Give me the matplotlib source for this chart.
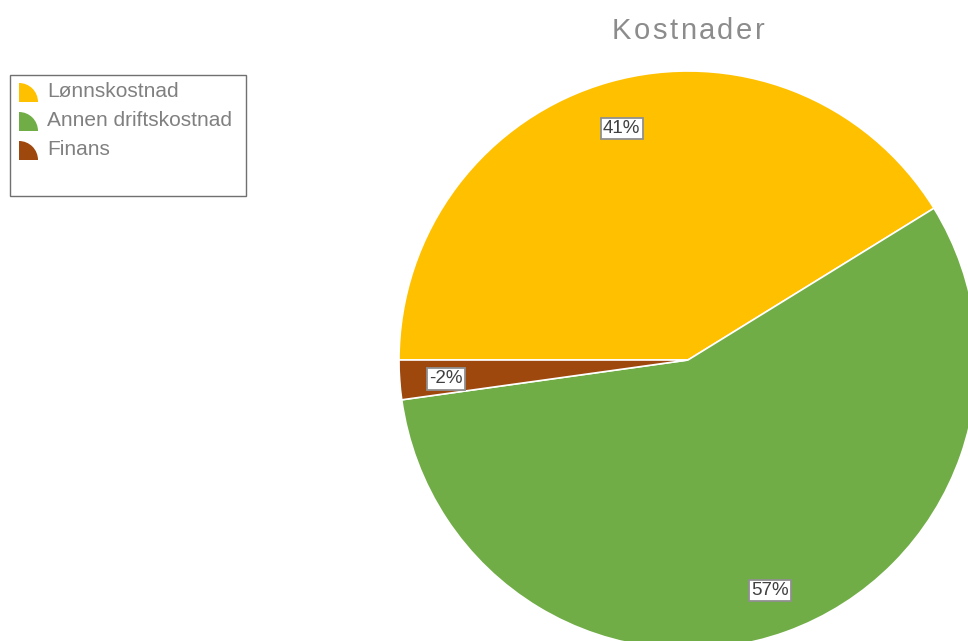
import matplotlib.pyplot as plt
from matplotlib.patches import Wedge, Rectangle
import numpy as np

# data
categories = ['Lønnskostnad', 'Annen driftskostnad', 'Finans']
values = [41.2, 56.6, -2.2]
colors = ['#FFC000', '#70AD47', '#9E480E']
title = 'Kostnader'

W, H = 968, 641
plt.rcParams['font.family'] = ['Liberation Sans', 'DejaVu Sans']


def py(y):
    # pixel row (from top) -> data y
    return H - y


fig = plt.figure(figsize=(W / 100, H / 100), dpi=100)
ax = fig.add_axes([0, 0, 1, 1])

sizes = [abs(v) for v in values]
total = sum(sizes)
labels = ['%d%%' % round(v / total * 100) for v in values]

cx, cy, R = 688, py(360), 289
wedges, _ = ax.pie(sizes, colors=colors, center=(cx, cy), radius=R,
                   startangle=180, counterclock=False,
                   wedgeprops=dict(edgecolor='white', linewidth=1.2), frame=True)

ang = 180.0
for lab, s in zip(labels, sizes):
    span = s / total * 360
    mid = np.deg2rad(ang - span / 2)
    ang -= span
    ax.text(cx + 0.84 * R * np.cos(mid), cy + 0.84 * R * np.sin(mid) - 2, lab,
            ha='center', va='center', fontsize=13.5, color='#404040',
            bbox=dict(boxstyle='square,pad=0.12', facecolor='white',
                      edgecolor='#909090', linewidth=1.3))

ax.set_xlim(0, W)
ax.set_ylim(0, H)
ax.set_aspect('equal')
ax.axis('off')

# title with some letter spacing
fig.canvas.draw()
rend = fig.canvas.get_renderer()
chars = []
for ch in title:
    t = ax.text(0, py(31), ch, fontsize=21, color='#8C8C8C', va='center', ha='left')
    chars.append(t)
widths = [t.get_window_extent(rend).width for t in chars]
spacing = 2.5
tot_w = sum(widths) + spacing * (len(chars) - 1)
x = 688 - tot_w / 2
for t, w in zip(chars, widths):
    t.set_x(x)
    x += w + spacing

# legend box
ax.add_patch(Rectangle((10, py(196)), 236, 121, facecolor='none',
                       edgecolor='#707070', linewidth=1))
for i, (name, c) in enumerate(zip(categories, colors)):
    base = 102 + 29 * i
    ax.add_patch(Wedge((19, py(base)), 19, 0, 90, facecolor=c, edgecolor='none'))
    ax.text(47, py(base - 5), name, fontsize=15, color='#808080',
            ha='left', va='baseline')

fig.savefig('out.png', dpi=100)
